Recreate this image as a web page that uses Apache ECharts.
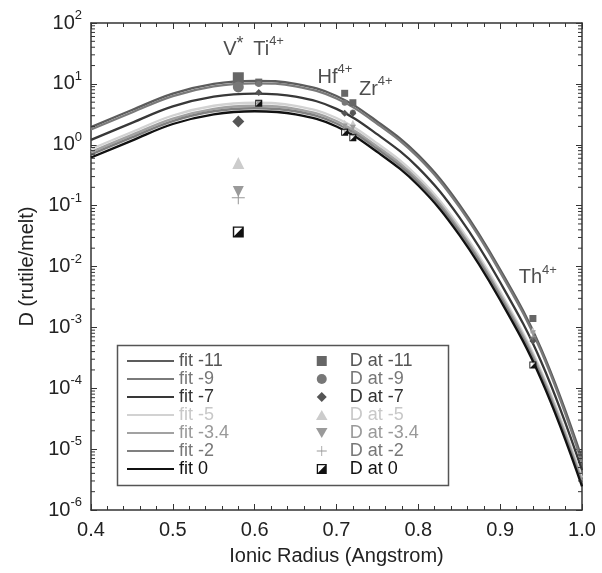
<!DOCTYPE html>
<html><head><meta charset="utf-8">
<script src="https://cdn.jsdelivr.net/npm/echarts/dist/echarts.min.js"></script>
<style>html,body{margin:0;padding:0;background:#fff}#c{width:602px;height:573px}</style>
</head><body><div id="c"></div>
<script>
// ---------- data ----------
const xs = [0.40,0.45,0.50,0.55,0.60,0.65,0.70,0.75,0.80,0.85,0.90,0.95,1.00];
const fitM11 = [1.95,3.72,6.92,10.0,11.2,10.0,6.31,2.40,0.676,0.105,8.9e-3,4.47e-4,7.0e-6];
const fitM9  = [1.78,3.39,6.31,9.12,10.2,9.12,5.75,2.19,0.617,0.0955,8.1e-3,4.07e-4,6.0e-6];
const fitM7  = [1.20,2.29,4.27,6.17,6.92,6.17,3.89,1.48,0.417,0.0646,5.5e-3,2.75e-4,4.5e-6];
const fitM5  = [0.851,1.62,3.02,4.37,4.90,4.37,2.75,1.05,0.295,0.0457,3.9e-3,1.95e-4,3.4e-6];
const fitM34 = [0.759,1.45,2.69,3.89,4.37,3.89,2.45,0.933,0.263,0.0407,3.47e-3,1.74e-4,3.0e-6];
const fitM2  = [0.692,1.32,2.45,3.55,3.98,3.55,2.24,0.851,0.240,0.0372,3.16e-3,1.58e-4,2.75e-6];
const fit0   = [0.617,1.17,2.19,3.16,3.55,3.16,2.00,0.759,0.214,0.0331,2.82e-3,1.41e-4,2.45e-6];

// ions: V*, Ti4+, Hf4+, Zr4+, Th4+
const radii = [0.58, 0.605, 0.71, 0.72, 0.94];
const dM11 = [12.6, 10.7, 7.0, 4.9, 1.4e-3];
const dM9  = [8.9, 10.0, 4.9, 3.4, 6.3e-4];
const dM7  = [2.4, 7.2, 3.3, 3.3, 6.0e-4];
const dM5  = [0.50, 4.9, 2.3, 2.3, 9.0e-4];
const dM34 = [0.17, 4.8, 2.0, 1.9, 8.0e-4];
const dM2  = [0.135, 4.7, 1.8, 1.6, 7.0e-4];
const d0   = [0.037, 4.8, 1.6, 1.3, 2.4e-4];

const ionNames = ['V', 'Ti', 'Hf', 'Zr', 'Th'];
const ionSups  = ['*', '4+', '4+', '4+', '4+'];
const ionLabelX = [0.574, 0.617, 0.698, 0.748, 0.946];
const ionLabelY = [37, 37, 12.9, 8.2, 6.5e-3];

const xTickLabels = ['0.4','0.5','0.6','0.7','0.8','0.9','1.0'];
const yExponents = ['-6','-5','-4','-3','-2','-1','0','1','2'];

const fitNames = ['fit -11','fit -9','fit -7','fit -5','fit -3.4','fit -2','fit 0'];
const dNames = ['D at -11','D at -9','D at -7','D at -5','D at -3.4','D at -2','D at 0'];

// ---------- styles ----------
const FONT = 'Liberation Sans, Arial, Helvetica, sans-serif';
const fitColors = ['#5c5c5c','#7a7a7a','#383838','#d2d2d2','#a2a2a2','#808080','#111111'];
const fitText   = ['#555','#777','#333','#c8c8c8','#999','#777','#111'];
const dColors   = ['#666666','#777777','#555555','#cccccc','#9a9a9a','#999999','#111111'];
const sqr = 'path://M0,0 L10,0 L10,10 L0,10 Z';
const diam = 'path://M5,0 L10,5 L5,10 L0,5 Z';
const tri = 'path://M5,0 L10,8.7 L0,8.7 Z';
const invTri = 'path://M0,0 L10,0 L5,8.7 Z';
const plus = 'path://M4.6,0 L5.4,0 L5.4,4.6 L10,4.6 L10,5.4 L5.4,5.4 L5.4,10 L4.6,10 L4.6,5.4 L0,5.4 L0,4.6 L4.6,4.6 Z';
const halfSquare = 'path://M0,0 L10,0 L10,10 L0,10 Z M1.3,1.3 L1.3,8.7 L8.7,8.7 L8.7,1.3 Z M8.7,1.3 L8.7,8.7 L1.3,8.7 Z';
const dSymbols = [sqr,'circle',diam,tri,invTri,plus,halfSquare];
const dSizeBig = [11,11,12,12,11,13,11];
const dSizeSmall = [7,6,7,6,6,7,7];

const fitData = [fitM11, fitM9, fitM7, fitM5, fitM34, fitM2, fit0];
const dData = [dM11, dM9, dM7, dM5, dM34, dM2, d0];

const series = [];
fitData.forEach((arr, i) => {
  series.push({
    name: fitNames[i], type: 'line', xAxisIndex: 0, yAxisIndex: 0,
    data: xs.map((x, k) => [x, arr[k]]),
    smooth: 0.4, symbol: 'none', silent: true, z: 2,
    lineStyle: { color: fitColors[i], width: 2.3 },
    itemStyle: { color: fitColors[i] }
  });
});
// white under-square for D at 0
series.push({
  name: '_bg0', type: 'scatter', data: radii.map((r, k) => [r, d0[k]]),
  symbol: 'rect', symbolSize: (v, p) => p.dataIndex === 0 ? 10 : 6,
  itemStyle: { color: '#fff' }, silent: true, z: 4
});
dData.forEach((arr, i) => {
  series.push({
    name: dNames[i], type: 'scatter',
    data: radii.map((r, k) => [r, arr[k]]),
    symbol: dSymbols[i],
    symbolSize: (v, p) => p.dataIndex === 0 ? dSizeBig[i] : dSizeSmall[i],
    itemStyle: { color: dColors[i], opacity: 1 },
    silent: true, z: 5
  });
});
// ion labels
series.push({
  name: '_ions', type: 'scatter', symbolSize: 0, silent: true, z: 6,
  data: ionLabelX.map((x, k) => [x, ionLabelY[k]]),
  label: {
    show: true, position: 'inside',
    formatter: p => '{b|' + ionNames[p.dataIndex] + '}' +
      (ionSups[p.dataIndex] === '*' ? '{a|*}' : '{s|' + ionSups[p.dataIndex] + '}'),
    rich: {
      b: { fontSize: 20, fontFamily: FONT, color: '#222', lineHeight: 28 },
      a: { fontSize: 18, fontFamily: FONT, color: '#222', lineHeight: 20, verticalAlign: 'top' },
      s: { fontSize: 13, fontFamily: FONT, color: '#222', lineHeight: 14, verticalAlign: 'top' }
    }
  }
});
// log minor ticks on left/right frame
const minorVals = [];
for (let d = -6; d < 2; d++) for (let k = 2; k <= 9; k++) minorVals.push(k * Math.pow(10, d));
series.push({
  name: '_minor', type: 'custom', silent: true, clip: false, z: 3,
  data: minorVals.map(v => [0.4, v]),
  renderItem: (params, api) => {
    const v = api.value(1);
    const L = api.coord([0.4, v]);
    const R = api.coord([1.0, v]);
    const st = { stroke: '#333', lineWidth: 1 };
    return { type: 'group', children: [
      { type: 'line', shape: { x1: L[0], y1: L[1], x2: L[0] + 4, y2: L[1] }, style: st },
      { type: 'line', shape: { x1: R[0], y1: R[1], x2: R[0] - 4, y2: R[1] }, style: st }
    ]};
  }
});

const axisLine = { show: true, lineStyle: { color: '#333', width: 1.5 } };
const tickStyle = { color: '#333', width: 1 };

const option = {
  backgroundColor: '#fff',
  animation: false,
  grid: { left: 91, right: 20, top: 23, bottom: 63 },
  xAxis: [{
    type: 'value', min: 0.4, max: 1.0, interval: 0.1, position: 'bottom',
    axisLine, splitLine: { show: false },
    axisTick: { inside: true, length: 6, lineStyle: tickStyle },
    minorTick: { show: true, splitNumber: 5, length: 4, lineStyle: tickStyle },
    axisLabel: { margin: 10, fontSize: 20, fontFamily: FONT, color: '#222',
      formatter: v => xTickLabels[Math.round((v - 0.4) / 0.1)] },
    name: 'Ionic Radius (Angstrom)', nameLocation: 'middle', nameGap: 36,
    nameTextStyle: { fontSize: 20, fontFamily: FONT, color: '#222' }
  }, {
    type: 'value', min: 0.4, max: 1.0, interval: 0.1, position: 'top',
    axisLine, splitLine: { show: false },
    axisTick: { inside: true, length: 6, lineStyle: tickStyle },
    minorTick: { show: true, splitNumber: 5, length: 4, lineStyle: tickStyle },
    axisLabel: { show: false }
  }],
  yAxis: [{
    type: 'log', logBase: 10, min: 1e-6, max: 100, splitNumber: 8, position: 'left',
    axisLine, splitLine: { show: false },
    axisTick: { inside: true, length: 6, lineStyle: tickStyle },
    axisLabel: { margin: 9, fontFamily: FONT, color: '#222',
      formatter: v => '{b|10}{s|' + yExponents[Math.round(Math.log10(v)) + 6] + '}',
      rich: {
        b: { fontSize: 20, fontFamily: FONT, color: '#222', lineHeight: 28 },
        s: { fontSize: 13, fontFamily: FONT, color: '#222', lineHeight: 14, verticalAlign: 'top' }
      }
    },
    name: 'D (rutile/melt)', nameLocation: 'middle', nameGap: 52, nameRotate: 90,
    nameTextStyle: { fontSize: 20, fontFamily: FONT, color: '#222' }
  }, {
    type: 'log', logBase: 10, min: 1e-6, max: 100, splitNumber: 8, position: 'right',
    axisLine, splitLine: { show: false },
    axisTick: { inside: true, length: 6, lineStyle: tickStyle },
    axisLabel: { show: false }
  }],
  legend: [{
    orient: 'vertical', left: 127, top: 352, padding: 0,
    icon: 'rect', itemWidth: 47, itemHeight: 2.2, itemGap: 0, selectedMode: false,
    textStyle: { fontSize: 18, fontFamily: FONT },
    data: fitNames.map((n, i) => ({ name: n, textStyle: { color: fitText[i] } }))
  }, {
    orient: 'vertical', left: 316, top: 352, padding: 0,
    itemWidth: 46, itemHeight: 10, itemGap: 0, selectedMode: false,
    textStyle: { fontSize: 18, fontFamily: FONT },
    data: dNames.map((n, i) => ({ name: n, textStyle: { color: fitText[i] } }))
  }],
  graphic: [{
    type: 'rect', left: 115, top: 343, z: 10, silent: true,
    shape: { width: 331, height: 140 },
    style: { fill: 'none', stroke: '#555', lineWidth: 1.5 }
  }],
  series
};

const chart = echarts.init(document.getElementById('c'), null, { renderer: 'canvas' });
chart.setOption(option);
</script></body></html>
